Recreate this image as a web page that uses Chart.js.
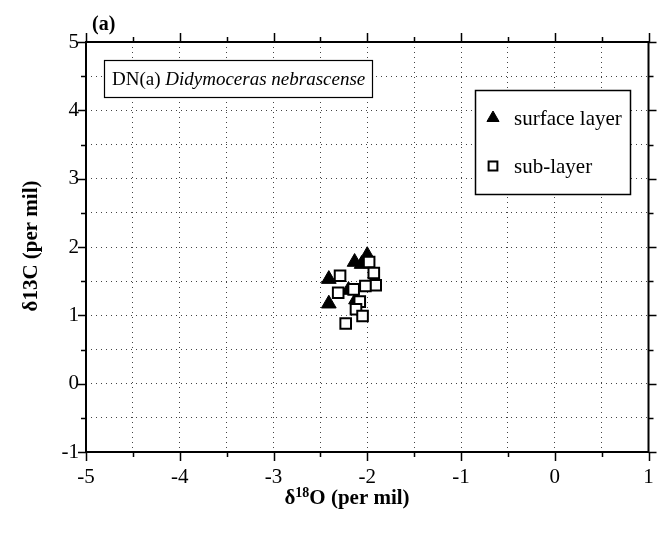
<!DOCTYPE html>
<html>
<head>
<meta charset="utf-8">
<script src="https://cdn.jsdelivr.net/npm/chart.js@4.4.1/dist/chart.umd.min.js"></script>
<style>
  html, body { margin: 0; padding: 0; background: #fff; }
  #wrap { width: 658px; height: 540px; position: relative; }
</style>
</head>
<body>
<div id="wrap"><canvas id="chart"></canvas></div>
<script>
// d18O / d13C pairs, per mil
const surfaceX = [-2.00, -2.135, -2.06, -2.41, -2.20, -2.12, -2.41];
const surfaceY = [1.88, 1.78, 1.75, 1.53, 1.37, 1.23, 1.17];

const subX = [-1.98, -1.93, -1.91, -2.02, -2.29, -2.31, -2.145, -2.08, -2.12, -2.05, -2.23];
const subY = [1.78, 1.62, 1.44, 1.43, 1.58, 1.33, 1.38, 1.20, 1.09, 0.99, 0.88];

const xTicks = [-5, -4, -3, -2, -1, 0, 1];
const yTicks = [-1, 0, 1, 2, 3, 4, 5];

const seriesNames = ["surface layer", "sub-layer"];
const panelLabel = "(a)";
const specimenCode = "DN(a) ";
const specimenName = "Didymoceras nebrascense";

const SERIF = "'Liberation Serif', 'Times New Roman', serif";

function toPoints(xs, ys) {
  return xs.map((x, i) => ({x: x, y: ys[i]}));
}

function tickLabel(value) {
  return Number.isInteger(value) ? String(value) : "";
}

// frame, outside tick marks, boxed annotations and axis titles
const decorations = {
  id: "decorations",

  beforeDatasetsDraw(chart) {
    const ctx = chart.ctx;
    ctx.save();

    // specimen box
    ctx.fillStyle = "#fff";
    ctx.fillRect(104, 60, 268, 37);
    ctx.strokeStyle = "#000";
    ctx.lineWidth = 1.2;
    ctx.strokeRect(104.5, 60.5, 268, 37);
    ctx.fillStyle = "#000";
    ctx.textBaseline = "middle";
    ctx.textAlign = "left";
    ctx.font = "19px " + SERIF;
    ctx.fillText(specimenCode, 112, 80);
    const codeWidth = ctx.measureText(specimenCode).width;
    ctx.font = "italic 19px " + SERIF;
    ctx.fillText(specimenName, 112 + codeWidth, 80);

    // legend box
    ctx.fillStyle = "#fff";
    ctx.fillRect(475, 90, 155, 104);
    ctx.lineWidth = 1.5;
    ctx.strokeRect(475.5, 90.5, 155, 104);
    const rows = [118, 166];
    chart.data.datasets.forEach((ds, i) => {
      ctx.fillStyle = ds.backgroundColor;
      ctx.strokeStyle = ds.borderColor;
      ctx.lineWidth = ds.borderWidth;
      Chart.helpers.drawPoint(ctx, {
        pointStyle: ds.pointStyle,
        radius: ds.legendRadius,
        rotation: 0,
        borderWidth: ds.borderWidth
      }, 493, rows[i]);
      ctx.fillStyle = "#000";
      ctx.font = "21px " + SERIF;
      ctx.fillText(ds.label, 514, rows[i] + 1);
    });
    ctx.restore();
  },

  afterDraw(chart) {
    const ctx = chart.ctx;
    const area = chart.chartArea;
    const xs = chart.scales.x;
    const ys = chart.scales.y;
    ctx.save();
    ctx.strokeStyle = "#000";
    ctx.lineWidth = 2;
    ctx.strokeRect(area.left, area.top, area.right - area.left, area.bottom - area.top);

    ctx.lineWidth = 1.5;
    ctx.beginPath();
    for (let v = -5; v <= 1; v += 0.5) {
      const len = Number.isInteger(v) ? 9 : 5;
      const px = Math.round(xs.getPixelForValue(v)) + 0.5;
      ctx.moveTo(px, area.bottom);
      ctx.lineTo(px, area.bottom + len);
      ctx.moveTo(px, area.top);
      ctx.lineTo(px, area.top - len);
    }
    for (let v = -1; v <= 5; v += 0.5) {
      const len = Number.isInteger(v) ? 8 : 5;
      const py = Math.round(ys.getPixelForValue(v)) + 0.5;
      ctx.moveTo(area.left, py);
      ctx.lineTo(area.left - len, py);
      ctx.moveTo(area.right, py);
      ctx.lineTo(area.right + len, py);
    }
    ctx.stroke();

    ctx.fillStyle = "#000";
    ctx.textBaseline = "alphabetic";

    // panel letter
    ctx.textAlign = "left";
    ctx.font = "bold 20px " + SERIF;
    ctx.fillText(panelLabel, 92, 30);

    // x axis title with superscript mass number
    const big = "bold 21px " + SERIF;
    const small = "bold 14px " + SERIF;
    const parts = [["\u03b4", big, 0], ["18", small, -7], ["O (per mil)", big, 0]];
    let total = 0;
    parts.forEach(p => { ctx.font = p[1]; total += ctx.measureText(p[0]).width; });
    let x = 347 - total / 2;
    parts.forEach(p => {
      ctx.font = p[1];
      ctx.fillText(p[0], x, 504 + p[2]);
      x += ctx.measureText(p[0]).width;
    });

    // y axis title
    ctx.translate(37, 246);
    ctx.rotate(-Math.PI / 2);
    ctx.textAlign = "center";
    ctx.font = big;
    ctx.fillText("\u03b413C (per mil)", 0, 0);
    ctx.restore();
  }
};

const data = {
  datasets: [{
    label: seriesNames[0],
    data: toPoints(surfaceX, surfaceY),
    pointStyle: "triangle",
    pointRadius: 8.5,
    legendRadius: 7,
    backgroundColor: "#000",
    borderColor: "#000",
    borderWidth: 1,
    order: 2
  }, {
    label: seriesNames[1],
    data: toPoints(subX, subY),
    pointStyle: "rect",
    pointRadius: 7.5,
    legendRadius: 6.2,
    backgroundColor: "#fff",
    borderColor: "#000",
    borderWidth: 2,
    order: 1
  }]
};

const config = {
  type: "scatter",
  data: data,
  options: {
    responsive: true,
    maintainAspectRatio: false,
    animation: false,
    events: [],
    layout: {
      padding: {top: 42, right: 8, left: 0, bottom: 0}
    },
    plugins: {
      legend: {display: false},
      tooltip: {enabled: false}
    },
    scales: {
      x: {
        type: "linear",
        min: xTicks[0],
        max: xTicks[xTicks.length - 1],
        afterFit: scale => {
          scale.height = 88;
          scale.paddingLeft = 0;
          scale.paddingRight = 0;
        },
        ticks: {
          stepSize: 0.5,
          autoSkip: false,
          maxRotation: 0,
          padding: 13,
          color: "#000",
          font: {family: SERIF, size: 21},
          callback: tickLabel
        },
        grid: {
          color: "#444",
          lineWidth: 1,
          drawTicks: false
        },
        border: {display: false, dash: [1, 4]}
      },
      y: {
        type: "linear",
        min: yTicks[0],
        max: yTicks[yTicks.length - 1],
        afterFit: scale => {
          scale.width = 86;
          scale.paddingTop = 0;
          scale.paddingBottom = 0;
        },
        ticks: {
          stepSize: 0.5,
          autoSkip: false,
          padding: 7,
          color: "#000",
          font: {family: SERIF, size: 21},
          callback: tickLabel
        },
        grid: {
          color: "#444",
          lineWidth: 1,
          drawTicks: false
        },
        border: {display: false, dash: [1, 4]}
      }
    }
  },
  plugins: [decorations]
};

new Chart(document.getElementById("chart"), config);
</script>
</body>
</html>
